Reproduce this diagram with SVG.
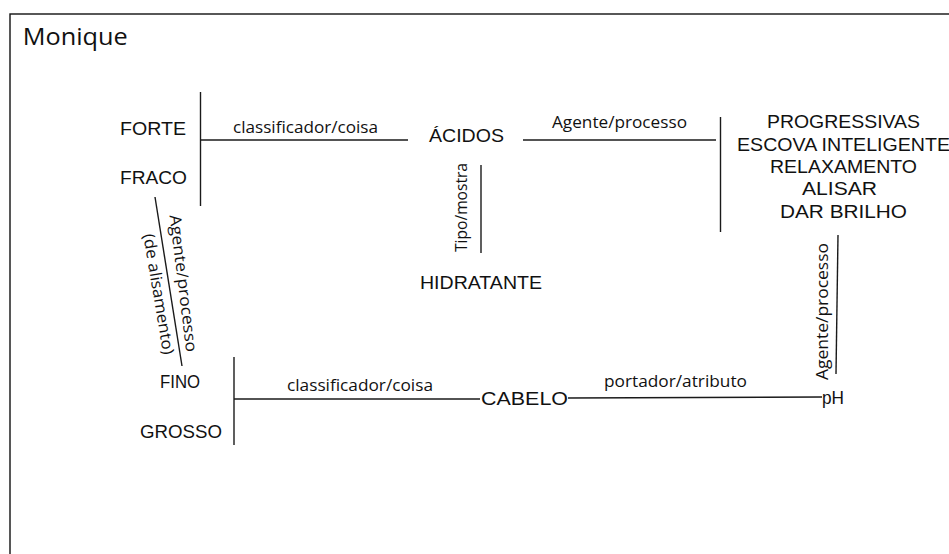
<svg xmlns="http://www.w3.org/2000/svg" width="949" height="554" viewBox="0 0 949 554">
<style>
.node{font-family:"Liberation Sans",Arial,sans-serif;font-size:18.5px;fill:#111}
.rel{font-family:"Open Sans","Noto Sans",sans-serif;font-size:16px;fill:#111}
.ln{stroke:#1a1a1a;stroke-width:1.4;fill:none}
</style>
<rect x="0" y="0" width="949" height="554" fill="#fff"/>
<rect x="10" y="14" width="1000" height="600" fill="none" stroke="#111" stroke-width="1.4"/>
<text x="22.7" y="44.5" font-family="'Open Sans','Noto Sans',sans-serif" font-size="24" fill="#111" textLength="105" lengthAdjust="spacingAndGlyphs">Monique</text>
<g id="connectors">
<line class="ln" x1="200.5" y1="92" x2="200.5" y2="206"/>
<line class="ln" x1="200.5" y1="140" x2="408" y2="140"/>
<line class="ln" x1="523" y1="140" x2="716" y2="140"/>
<line class="ln" x1="720.5" y1="117" x2="720.5" y2="232"/>
<line class="ln" x1="481" y1="165" x2="481" y2="253"/>
<line class="ln" x1="838" y1="235" x2="836" y2="374"/>
<line class="ln" x1="155" y1="197" x2="182" y2="366"/>
<line class="ln" x1="234" y1="357" x2="234" y2="445"/>
<line class="ln" x1="234" y1="399" x2="480" y2="399"/>
<line class="ln" x1="568" y1="398" x2="822" y2="397"/>
<text class="rel" x="233" y="133" textLength="145" lengthAdjust="spacingAndGlyphs">classificador/coisa</text>
<text class="rel" x="552" y="128" textLength="135" lengthAdjust="spacingAndGlyphs">Agente/processo</text>
<text class="rel" transform="translate(467,207.5) rotate(-90)" text-anchor="middle" textLength="89" lengthAdjust="spacingAndGlyphs">Tipo/mostra</text>
<text class="rel" transform="translate(828,311.5) rotate(-90)" text-anchor="middle" textLength="137" lengthAdjust="spacingAndGlyphs">Agente/processo</text>
<text class="rel" transform="translate(178,284) rotate(83)" text-anchor="middle" textLength="138" lengthAdjust="spacingAndGlyphs">Agente/processo</text>
<text class="rel" transform="translate(153.3,295) rotate(80.5)" text-anchor="middle" textLength="122" lengthAdjust="spacingAndGlyphs">(de alisamento)</text>
<text class="rel" x="287" y="391" textLength="146" lengthAdjust="spacingAndGlyphs">classificador/coisa</text>
<text class="rel" x="604" y="387" textLength="143" lengthAdjust="spacingAndGlyphs">portador/atributo</text>
</g>
<g id="forte-fraco">
<text class="node" x="120" y="135" textLength="66" lengthAdjust="spacingAndGlyphs">FORTE</text>
<text class="node" x="120" y="184" textLength="67" lengthAdjust="spacingAndGlyphs">FRACO</text>
</g>
<g id="acidos">
<text class="node" x="429" y="142" textLength="75" lengthAdjust="spacingAndGlyphs">ÁCIDOS</text>
</g>
<g id="hidratante">
<text class="node" x="420" y="289" textLength="122" lengthAdjust="spacingAndGlyphs">HIDRATANTE</text>
</g>
<g id="processos">
<text class="node" x="767" y="128" textLength="153" lengthAdjust="spacingAndGlyphs">PROGRESSIVAS</text>
<text class="node" x="737" y="151" textLength="213" lengthAdjust="spacingAndGlyphs">ESCOVA INTELIGENTE</text>
<text class="node" x="770" y="173" textLength="147" lengthAdjust="spacingAndGlyphs">RELAXAMENTO</text>
<text class="node" x="802" y="195" textLength="75" lengthAdjust="spacingAndGlyphs">ALISAR</text>
<text class="node" x="780" y="218" textLength="127" lengthAdjust="spacingAndGlyphs">DAR BRILHO</text>
</g>
<g id="fino-grosso">
<text class="node" x="160" y="388" textLength="40" lengthAdjust="spacingAndGlyphs">FINO</text>
<text class="node" x="140" y="438" textLength="82" lengthAdjust="spacingAndGlyphs">GROSSO</text>
</g>
<g id="cabelo">
<text class="node" x="481" y="405" textLength="87" lengthAdjust="spacingAndGlyphs">CABELO</text>
</g>
<g id="ph">
<text class="node" x="822" y="404" textLength="22" lengthAdjust="spacingAndGlyphs">pH</text>
</g>
</svg>
